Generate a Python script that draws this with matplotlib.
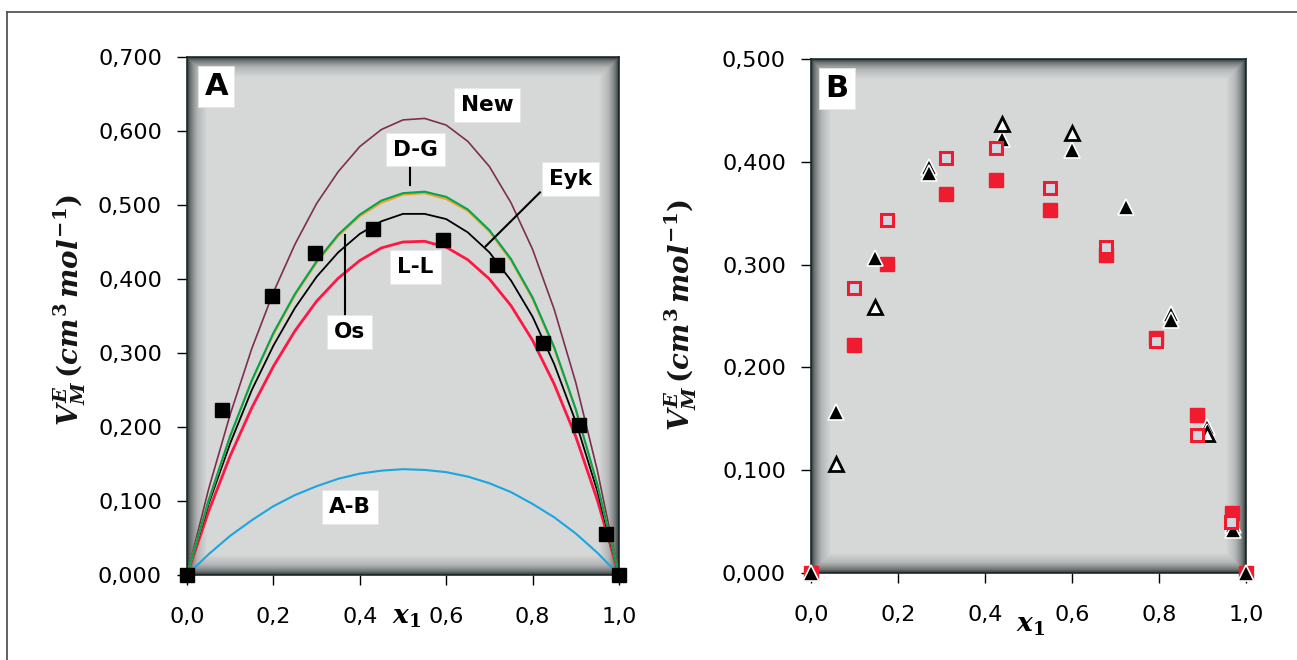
import numpy as np
import matplotlib
matplotlib.use('Agg')
import matplotlib.pyplot as plt
from matplotlib.colors import LinearSegmentedColormap

plt.rcParams['font.family'] = 'DejaVu Sans'
plt.rcParams['mathtext.fontset'] = 'custom'
plt.rcParams['mathtext.it'] = 'DejaVu Serif:italic:bold'
plt.rcParams['mathtext.rm'] = 'DejaVu Serif:bold'
plt.rcParams['mathtext.bf'] = 'DejaVu Serif:bold'

# ---- Panel A: model curves ----
x_fit = [0.00, 0.05, 0.10, 0.15, 0.20, 0.25, 0.30, 0.35, 0.40, 0.45, 0.50,
         0.55, 0.60, 0.65, 0.70, 0.75, 0.80, 0.85, 0.90, 0.95, 1.00]
new_fit = [0, 0.116, 0.217, 0.306, 0.382, 0.447, 0.502, 0.545, 0.579, 0.602, 0.615,
           0.617, 0.608, 0.586, 0.552, 0.503, 0.440, 0.359, 0.260, 0.141, 0]
dg_fit = [0, 0.101, 0.188, 0.263, 0.327, 0.380, 0.424, 0.460, 0.487, 0.506, 0.516,
          0.518, 0.511, 0.494, 0.466, 0.427, 0.375, 0.308, 0.224, 0.122, 0]
os_fit = [0, 0.100, 0.187, 0.262, 0.325, 0.378, 0.422, 0.458, 0.485, 0.503, 0.514,
          0.516, 0.508, 0.492, 0.464, 0.425, 0.373, 0.306, 0.223, 0.122, 0]
eyk_fit = [0, 0.096, 0.178, 0.250, 0.310, 0.361, 0.403, 0.436, 0.461, 0.478, 0.488,
           0.488, 0.481, 0.463, 0.436, 0.398, 0.349, 0.285, 0.207, 0.113, 0]
ll_fit = [0, 0.086, 0.161, 0.226, 0.282, 0.330, 0.370, 0.401, 0.425, 0.442, 0.450,
          0.451, 0.443, 0.426, 0.400, 0.364, 0.317, 0.258, 0.187, 0.101, 0]
ab_fit = [0, 0.028, 0.053, 0.074, 0.093, 0.108, 0.120, 0.130, 0.137, 0.141, 0.143,
          0.142, 0.139, 0.133, 0.124, 0.112, 0.096, 0.078, 0.056, 0.030, 0]

# experimental points panel A
x_exp = [0.0, 0.080, 0.196, 0.297, 0.430, 0.593, 0.718, 0.823, 0.908, 0.971, 1.0]
v_exp = [0.0, 0.223, 0.377, 0.435, 0.468, 0.453, 0.419, 0.314, 0.203, 0.055, 0.0]

# ---- Panel B ----
xb_sq = [0.0, 0.098, 0.174, 0.311, 0.426, 0.549, 0.678, 0.792, 0.887, 0.968, 1.0]
vb_sq = [0.0, 0.222, 0.301, 0.369, 0.382, 0.353, 0.309, 0.229, 0.154, 0.058, 0.0]
xb_sq_open = [0.098, 0.174, 0.311, 0.426, 0.549, 0.678, 0.792, 0.887, 0.965]
vb_sq_open = [0.277, 0.343, 0.404, 0.413, 0.375, 0.317, 0.226, 0.134, 0.050]
xb_tri = [0.0, 0.058, 0.146, 0.271, 0.438, 0.599, 0.723, 0.827, 0.910, 0.970, 1.0]
vb_tri = [0.0, 0.157, 0.306, 0.395, 0.422, 0.411, 0.356, 0.252, 0.142, 0.047, 0.0]
xb_tri2 = [0.271, 0.827, 0.910, 0.970]
vb_tri2 = [0.389, 0.246, 0.137, 0.042]
xb_tri_open = [0.058, 0.146, 0.438, 0.599, 0.910]
vb_tri_open = [0.1065, 0.259, 0.437, 0.428, 0.135]

xticks = [0.0, 0.2, 0.4, 0.6, 0.8, 1.0]
xtick_labels = ['0,0', '0,2', '0,4', '0,6', '0,8', '1,0']
yticks_a = [0.0, 0.1, 0.2, 0.3, 0.4, 0.5, 0.6, 0.7]
ytick_labels_a = ['0,000', '0,100', '0,200', '0,300', '0,400', '0,500', '0,600', '0,700']
yticks_b = [0.0, 0.1, 0.2, 0.3, 0.4, 0.5]
ytick_labels_b = ['0,000', '0,100', '0,200', '0,300', '0,400', '0,500']

W, H = 1297, 660
fig = plt.figure(figsize=(W / 100, H / 100), dpi=100)
fig.patch.set_facecolor('white')

# outer frame (only top and left visible)
fig.add_artist(plt.Line2D([7 / W, 7 / W], [0, 1 - 11.5 / H], color='#555555', lw=1.3))
fig.add_artist(plt.Line2D([7 / W, 1], [1 - 11.5 / H, 1 - 11.5 / H], color='#555555', lw=1.3))

shade_cmap = LinearSegmentedColormap.from_list('shade', ['#1f2a2a', '#6f7474', '#b4b7b7', '#d6d7d7'])


def panel(rect, wpx, hpx):
    ax = fig.add_axes(rect)
    yy, xx = np.mgrid[0:hpx, 0:wpx]
    d = np.minimum(np.minimum(xx, wpx - 1 - xx), np.minimum(yy, hpx - 1 - yy)).astype(float)
    s = np.clip(d / 20.0, 0, 1) ** 0.6
    ax.imshow(s, cmap=shade_cmap, vmin=0, vmax=1, extent=[0, 1, 0, 1],
              transform=ax.transAxes, aspect='auto', zorder=0, interpolation='bilinear')
    for sp in ax.spines.values():
        sp.set_color('#1f2a2a')
        sp.set_linewidth(1.2)
    ax.tick_params(direction='out', length=7, width=1, color='black',
                   labelsize=16, pad=11)
    ax.tick_params(axis='x', pad=16)
    return ax


# ---------- Panel A ----------
axA = panel([187 / W, 1 - 575 / H, 432 / W, 518 / H], 432, 518)
axA.plot(x_fit, new_fit, color='#7d2f4e', lw=1.2, zorder=2)
axA.plot(x_fit, ab_fit, color='#1aa6e0', lw=1.5, zorder=2)
axA.plot(x_fit, ll_fit, color='#ff1744', lw=2.0, zorder=2)
axA.plot(x_fit, eyk_fit, color='black', lw=1.3, zorder=2)
axA.plot(x_fit, os_fit, color='#f2a22a', lw=1.5, zorder=2)
axA.plot(x_fit, dg_fit, color='#00a651', lw=1.5, zorder=2)
axA.plot(x_exp, v_exp, ls='none', marker='s', ms=9.5, color='black', zorder=5, clip_on=False)

axA.set_xlim(0, 1)
axA.set_ylim(0, 0.7)
axA.set_xticks(xticks)
axA.set_xticklabels(xtick_labels)
axA.set_yticks(yticks_a)
axA.set_yticklabels(ytick_labels_a)

box = dict(boxstyle='square,pad=0.32', fc='white', ec='#e6e6e6', lw=0.5)
lbl = dict(fontsize=15.5, fontweight='bold', ha='center', va='center', bbox=box, zorder=6)
panel_box = dict(boxstyle='square,pad=0.2', fc='white', ec='#e6e6e6', lw=0.5)
axA.text(0.068, 0.660, 'A', fontsize=22, fontweight='bold', ha='center', va='center',
         bbox=panel_box, zorder=6)
axA.text(0.695, 0.635, 'New', **lbl)
axA.text(0.529, 0.575, 'D-G', **lbl)
axA.text(0.887, 0.535, 'Eyk', **lbl)
axA.text(0.377, 0.328, 'Os', **lbl)
axA.text(0.529, 0.4166, 'L-L', **lbl)
axA.text(0.377, 0.0923, 'A-B', **lbl)
axA.plot([0.516, 0.516], [0.551, 0.527], color='black', lw=1.5, zorder=4)
axA.plot([0.817, 0.691], [0.517, 0.444], color='black', lw=1.5, zorder=4)
axA.plot([0.365, 0.365], [0.459, 0.351], color='black', lw=1.5, zorder=4)

fig.text(70 / W, 1 - 310 / H, r'$V_M^E\,(cm^3\,mol^{-1})$', rotation=90,
         fontsize=20, ha='center', va='center', color='#151515')
fig.text(407 / W, 1 - 617 / H, r'$x_1$', fontsize=19, ha='center', va='center')

# ---------- Panel B ----------
axB = panel([811 / W, 1 - 573 / H, 435 / W, 514 / H], 435, 514)
axB.plot(xb_sq, vb_sq, ls='none', marker='s', ms=9.5, color='#ee1c2e', zorder=3, clip_on=False)
axB.plot(xb_tri, vb_tri, ls='none', marker='^', ms=11, mfc='black', mec='white', mew=1.2,
         zorder=4, clip_on=False)
axB.plot(xb_tri2, vb_tri2, ls='none', marker='^', ms=11, mfc='black', mec='white', mew=1.2,
         zorder=4, clip_on=False)
axB.plot(xb_tri_open, vb_tri_open, ls='none', marker='^', ms=10, mfc='white', mec='black',
         mew=2, zorder=4, clip_on=False)
axB.plot(xb_sq_open, vb_sq_open, ls='none', marker='s', ms=8.5, mfc='#d0d8e2', mec='#ee1c2e',
         mew=2.2, zorder=5, clip_on=False)

axB.set_xlim(0, 1)
axB.set_ylim(0, 0.5)
axB.set_xticks(xticks)
axB.set_xticklabels(xtick_labels)
axB.set_yticks(yticks_b)
axB.set_yticklabels(ytick_labels_b)
axB.text(0.060, 0.471, 'B', fontsize=22, fontweight='bold', ha='center', va='center',
         bbox=panel_box, zorder=6)

fig.text(681 / W, 1 - 315 / H, r'$V_M^E\,(cm^3\,mol^{-1})$', rotation=90,
         fontsize=20, ha='center', va='center', color='#151515')
fig.text(1031 / W, 1 - 625 / H, r'$x_1$', fontsize=19, ha='center', va='center')

fig.savefig('out.png', dpi=100, facecolor='white')
